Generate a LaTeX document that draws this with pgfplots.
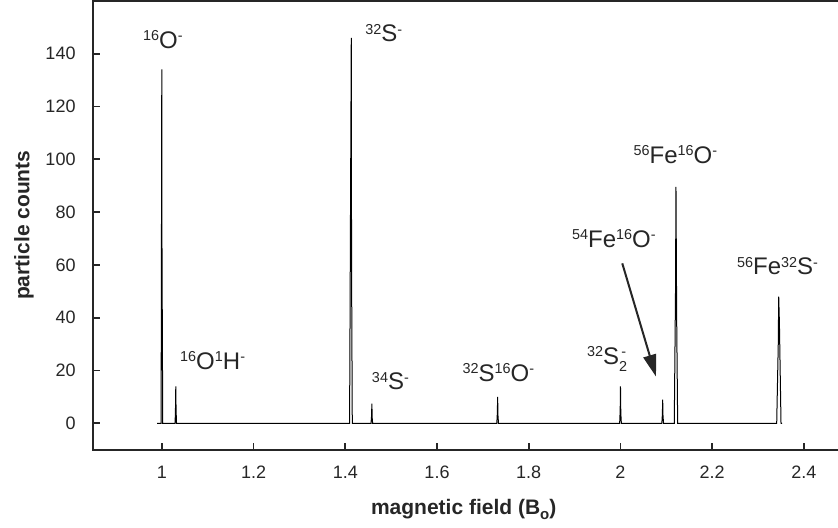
\documentclass[border=0pt]{standalone}
\usepackage{pgfplots}
\pgfplotsset{compat=1.18}
\usepackage{fontspec}
\setmainfont{Liberation Sans}
\usetikzlibrary{arrows.meta}

\definecolor{ink}{HTML}{262626}
% superscript / subscript helpers for the isotope labels
\newcommand\su[1]{\raisebox{3.9pt}{\fontsize{7.2}{7.2}\selectfont #1}}
\newcommand\iso[1]{{\fontsize{12}{14}\selectfont #1}}

\begin{document}
\begin{tikzpicture}
\begin{axis}[
  scale only axis,
  width=378.4pt, height=224.5pt,
  xmin=0.85, xmax=2.5,
  ymin=-10, ymax=160,
  axis line style={ink, line width=0.8pt},
  tick align=inside,
  xtick pos=left, ytick pos=left,
  major tick length=3.6pt,
  major tick style={draw=ink, line width=0.9pt},
  xtick={1,1.2,...,2.4},
  ytick={0,20,...,140},
  /pgf/number format/assume math mode=true,
  ticklabel style={font=\fontsize{9}{10}\selectfont, text=ink},
  yticklabel style={xshift=-5.2pt},
  xticklabel style={yshift=-4.5pt},
  clip=false,
]
% measured spectrum
\addplot[black, line width=0.5pt, sharp plot] coordinates {
  (0.9897,0) (0.9985,0) (1.0000,134) (1.0003,72) (1.0020,0)
  (1.0290,0) (1.0299,6) (1.0305,14) (1.0311,5) (1.0321,0)
  (1.4094,0) (1.4131,146) (1.4137,60) (1.4153,0)
  (1.4562,0) (1.4574,3) (1.4580,7.5) (1.4587,2) (1.4597,0)
  (1.7304,0) (1.7316,4) (1.7322,10) (1.7329,3) (1.7341,0)
  (1.9982,0) (1.9994,5) (2.0000,14) (2.0007,4) (2.0019,0)
  (2.0902,0) (2.0914,3.5) (2.0920,9) (2.0927,3) (2.0939,0)
  (2.1173,0) (2.1200,50) (2.1210,89.5) (2.1225,40) (2.1247,0)
  (2.3406,0) (2.3440,30) (2.3450,48) (2.3465,38) (2.3500,0) (2.3522,0)
};
% inward tick strokes
\pgfplotsinvokeforeach{1,1.2,1.4,1.6,1.8,2,2.2,2.4}{
  \draw[ink, line width=0.9pt] (axis cs:#1,-10) -- ([yshift=3.6pt]axis cs:#1,-10);
}
\pgfplotsinvokeforeach{0,20,40,60,80,100,120,140}{
  \draw[ink, line width=0.9pt] (axis cs:0.85,#1) -- ([xshift=3.6pt]axis cs:0.85,#1);
}
% axis titles
\node[anchor=base, text=ink, inner sep=0pt] at ([shift={(-1pt,-32.5pt)}]rel axis cs:0.4925,0)
  {\fontsize{10.5}{12}\selectfont\bfseries magnetic field (B\raisebox{-2.2pt}{\fontsize{7.5}{8}\selectfont o})};
\node[rotate=90, anchor=center, text=ink] at ([xshift=-34.5pt]rel axis cs:0,0.5)
  {\fontsize{10.5}{12}\selectfont\bfseries particle counts};
% peak assignments
\begin{scope}[every node/.style={anchor=base west, inner sep=0pt, text=ink}]
\node at (axis cs:0.9586,141.9) {\iso{\su{16}O\su{-}}};
\node at (axis cs:1.4427,144.4) {\iso{\su{32}S\su{-}}};
\node at (axis cs:1.0393,20.3) {\iso{\su{16}O\su{1}H\su{-}}};
\node at (axis cs:1.4574,12.7) {\iso{\su{34}S\su{-}}};
\node at (axis cs:1.6550,15.9) {\iso{\su{32}S\su{16}O\su{-}}};
\node at (axis cs:1.9262,22.2) {\iso{\su{32}S\rlap{\raisebox{-3.3pt}{\fontsize{7.2}{7.2}\selectfont 2}}\su{\,-}}};
\node at (axis cs:1.8936,66.7) {\iso{\su{54}Fe\su{16}O\su{-}}};
\node at (axis cs:2.0279,98.4) {\iso{\su{56}Fe\su{16}O\su{-}}};
\node at (axis cs:2.2534,56.2) {\iso{\su{56}Fe\su{32}S\su{-}}};
\end{scope}
\draw[ink, line width=1pt, -{Triangle[length=11pt, width=6.5pt]}]
  (axis cs:2.0039,60.6) -- (axis cs:2.0774,17.7);
\end{axis}
\pgfresetboundingbox
\path[use as bounding box] ([shift={(-46.5pt,-39pt)}]current axis.south west)
  rectangle ([shift={(372.5pt,0.4pt)}]current axis.north west);
\end{tikzpicture}
\end{document}
